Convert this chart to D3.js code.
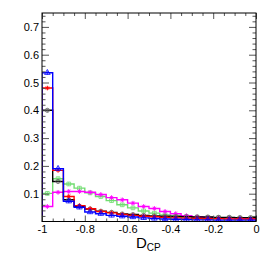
<!DOCTYPE html>
<html>
<head>
<meta charset="utf-8">
<script src="https://cdn.jsdelivr.net/npm/d3@7"></script>
<style>
  body { margin: 0; background: #fff; }
  text { font-family: "Liberation Sans", Arial, sans-serif; }
</style>
</head>
<body>
<svg id="chart" width="266" height="255"></svg>
<script>
"use strict";
// bin lower edges, 20 bins of D_CP
var binLo = [-1, -0.95, -0.9, -0.85, -0.8, -0.75, -0.7, -0.65, -0.6, -0.55,
             -0.5, -0.45, -0.4, -0.35, -0.3, -0.25, -0.2, -0.15, -0.1, -0.05];
var binW = 0.05;

var blueVals    = [0.535, 0.190, 0.073, 0.051, 0.034, 0.028, 0.022, 0.019, 0.016, 0.013,
                   0.011, 0.009, 0.008, 0.007, 0.006, 0.006, 0.005, 0.005, 0.005, 0.005];
var redVals     = [0.480, 0.184, 0.090, 0.057, 0.046, 0.036, 0.031, 0.025, 0.022, 0.019,
                   0.017, 0.015, 0.013, 0.012, 0.011, 0.010, 0.010, 0.009, 0.009, 0.009];
var blackVals   = [0.400, 0.144, 0.078, 0.055, 0.045, 0.037, 0.033, 0.027, 0.025, 0.022,
                   0.020, 0.019, 0.018, 0.017, 0.016, 0.016, 0.015, 0.015, 0.014, 0.014];
var greenVals   = [0.101, 0.154, 0.135, 0.120, 0.103, 0.090, 0.075, 0.060, 0.049, 0.038,
                   0.030, 0.024, 0.021, 0.018, 0.016, 0.015, 0.014, 0.013, 0.012, 0.012];
var magentaVals = [0.054, 0.105, 0.108, 0.108, 0.105, 0.097, 0.086, 0.078, 0.066, 0.054,
                   0.047, 0.036, 0.028, 0.021, 0.017, 0.015, 0.013, 0.012, 0.011, 0.010];

var series = [
  { name: "green",   vals: greenVals,   color: "#70dd70", marker: "square" },
  { name: "magenta", vals: magentaVals, color: "#ff00ff", marker: "star" },
  { name: "black",   vals: blackVals,   color: "#000000", marker: "circle", mcolor: "#666" },
  { name: "red",     vals: redVals,     color: "#ff0000", marker: "star" },
  { name: "blue",    vals: blueVals,    color: "#0000ff", marker: "triangle" }
];

var yMajor = [0.1, 0.2, 0.3, 0.4, 0.5, 0.6, 0.7];
var xMajor = [-1, -0.8, -0.6, -0.4, -0.2, 0];
var xLabels = ["-1", "-0.8", "-0.6", "-0.4", "-0.2", "0"];

var padL = 42, padR = 256, padT = 13, padB = 221.5;
var svg = d3.select("#chart");

var x = d3.scaleLinear().domain([-1, 0]).range([padL, padR]);
var y = d3.scaleLinear().domain([0, 0.75]).range([padB, padT]);

svg.append("clipPath").attr("id", "clip")
  .append("rect").attr("x", padL).attr("y", padT)
  .attr("width", padR - padL).attr("height", padB - padT);

var plot = svg.append("g").attr("clip-path", "url(#clip)");

// step histogram outlines
function stepPoints(vals) {
  var pts = [[x(binLo[0]), y(0)]];
  vals.forEach(function (v, i) {
    pts.push([x(binLo[i]), y(v)]);
    pts.push([x(binLo[i] + binW), y(v)]);
  });
  pts.push([x(binLo[binLo.length - 1] + binW), y(0)]);
  return pts;
}

var line = d3.line();
var star = {
  draw: function (ctx, size) {
    var r = Math.sqrt(size) / 2;
    for (var k = 0; k < 4; k++) {
      var a = k * Math.PI / 4;
      ctx.moveTo(-r * Math.cos(a), -r * Math.sin(a));
      ctx.lineTo(r * Math.cos(a), r * Math.sin(a));
    }
  }
};
var symbolFor = {
  square: d3.symbolSquare,
  circle: d3.symbolCircle,
  triangle: d3.symbolTriangle,
  star: star
};

series.forEach(function (s) {
  var g = plot.append("g");
  g.append("path")
    .attr("d", line(stepPoints(s.vals)))
    .attr("fill", "none")
    .attr("stroke", s.color)
    .attr("stroke-width", 1.4);

  var mc = s.mcolor || s.color;
  // small error bars
  g.selectAll("line.err")
    .data(s.vals)
    .enter().append("line")
    .attr("x1", function (d, i) { return x(binLo[i] + binW / 2); })
    .attr("x2", function (d, i) { return x(binLo[i] + binW / 2); })
    .attr("y1", function (d) { return y(d) - 2; })
    .attr("y2", function (d) { return y(d) + 2; })
    .attr("stroke", mc).attr("stroke-width", 0.7);

  var sym = d3.symbol().type(symbolFor[s.marker]).size(s.marker === "star" ? 22 : 14);
  g.selectAll("path.mk")
    .data(s.vals)
    .enter().append("path")
    .attr("transform", function (d, i) {
      return "translate(" + x(binLo[i] + binW / 2) + "," + y(d) + ")";
    })
    .attr("d", sym)
    .attr("fill", "none")
    .attr("stroke", mc)
    .attr("stroke-width", 0.8);
});

// axes, ticks pointing inward
var yMinor = d3.range(0.02, 0.75, 0.02).filter(function (v) {
  return Math.abs(v * 10 - Math.round(v * 10)) > 1e-6;
});
var xMinor = binLo.filter(function (v) {
  return Math.abs(v * 5 - Math.round(v * 5)) > 1e-6;
});

function styleAxis(g) {
  g.select(".domain").remove();
  g.selectAll("line").attr("stroke", "#555").attr("stroke-width", 1);
  g.selectAll("text").attr("font-size", 11).attr("fill", "#000")
    .style("font-family", "'Liberation Sans', Arial, sans-serif");
}

svg.append("g").attr("transform", "translate(" + padL + ",0)")
  .call(d3.axisLeft(y).tickValues(yMajor).tickSize(-7).tickPadding(3)
    .tickFormat(d3.format(".1f")))
  .call(styleAxis);
svg.append("g").attr("transform", "translate(" + padL + ",0)")
  .call(d3.axisLeft(y).tickValues(yMinor).tickSize(-3.5).tickFormat(""))
  .call(styleAxis);
svg.append("g").attr("transform", "translate(" + padR + ",0)")
  .call(d3.axisRight(y).tickValues(yMajor).tickSize(-7).tickFormat(""))
  .call(styleAxis);
svg.append("g").attr("transform", "translate(" + padR + ",0)")
  .call(d3.axisRight(y).tickValues(yMinor).tickSize(-3.5).tickFormat(""))
  .call(styleAxis);

svg.append("g").attr("transform", "translate(0," + padB + ")")
  .call(d3.axisBottom(x).tickValues(xMajor).tickSize(-6).tickPadding(4)
    .tickFormat(function (d, i) { return xLabels[i]; }))
  .call(styleAxis);
svg.append("g").attr("transform", "translate(0," + padB + ")")
  .call(d3.axisBottom(x).tickValues(xMinor).tickSize(-3).tickFormat(""))
  .call(styleAxis);
svg.append("g").attr("transform", "translate(0," + padT + ")")
  .call(d3.axisTop(x).tickValues(xMajor).tickSize(-6).tickFormat(""))
  .call(styleAxis);
svg.append("g").attr("transform", "translate(0," + padT + ")")
  .call(d3.axisTop(x).tickValues(xMinor).tickSize(-3).tickFormat(""))
  .call(styleAxis);

// frame
svg.append("rect")
  .attr("x", padL).attr("y", padT)
  .attr("width", padR - padL).attr("height", padB - padT)
  .attr("fill", "none").attr("stroke", "#000").attr("stroke-width", 1);

// axis title
var title = svg.append("text")
  .attr("x", 136).attr("y", 248)
  .attr("font-size", 15).attr("fill", "#000");
title.append("tspan").text("D");
title.append("tspan").attr("font-size", 10).attr("dy", 3).text("CP");
</script>
</body>
</html>
